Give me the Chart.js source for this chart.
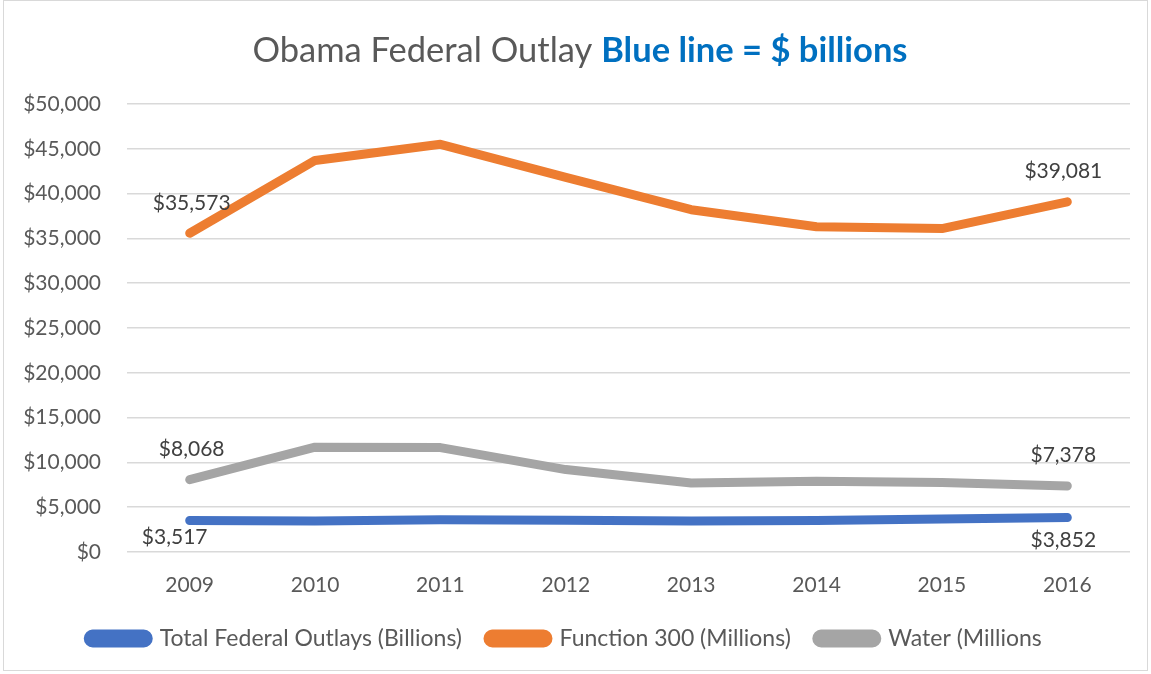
<!DOCTYPE html>
<html>
<head>
<meta charset="utf-8">
<script src="https://cdn.jsdelivr.net/npm/chart.js@4/dist/chart.umd.min.js"></script>
<style>
	html, body { margin: 0; padding: 0; background: #fff; }
	#wrap { width: 1151px; height: 674px; position: relative; }
</style>
</head>
<body>
<div id="wrap"><canvas id="outlay" width="1151" height="674"></canvas></div>
<script>
const years = ['2009', '2010', '2011', '2012', '2013', '2014', '2015', '2016']
const totalOutlays = [3517, 3457, 3603, 3537, 3455, 3506, 3688, 3852]
const function300 = [35573, 43700, 45500, 41800, 38200, 36300, 36100, 39081]
const water = [8068, 11700, 11650, 9200, 7700, 7900, 7750, 7378]
const seriesNames = ['Total Federal Outlays (Billions)', 'Function 300 (Millions)', 'Water (Millions']
const titlePlain = 'Obama Federal Outlay '
const titleBold = 'Blue line = $ billions'

const FONT = 'Lato, "Open Sans", sans-serif'
const fmt = (v) => '$' + v.toLocaleString('en-US')

// labels only on the first and last point; blue goes below, others above
const endLabels = {
	id: 'endLabels',
	afterDatasetsDraw(chart) {
		const ctx = chart.ctx
		ctx.save()
		ctx.font = '21px ' + FONT
		ctx.fillStyle = '#404040'
		ctx.textAlign = 'center'
		chart.data.datasets.forEach((ds, i) => {
			const meta = chart.getDatasetMeta(i)
			const last = ds.data.length - 1
			;[0, last].forEach((idx) => {
				const pt = meta.data[idx]
				const below = i === 0
				ctx.textBaseline = below ? 'top' : 'bottom'
				let dx = idx === 0 ? 2 : -4
				let dy = -20
				if (below) {
					dx = idx === 0 ? -15 : -4
					dy = idx === 0 ? 6 : 12
				}
				ctx.fillText(fmt(ds.data[idx]), pt.x + dx, pt.y + dy)
			})
		})
		ctx.restore()
	},
}

const titleAndFrame = {
	id: 'titleAndFrame',
	afterDraw(chart) {
		const ctx = chart.ctx
		ctx.save()
		ctx.strokeStyle = '#d9d9d9'
		ctx.lineWidth = 1
		ctx.strokeRect(3.5, 0.5, 1144, 670)

		ctx.textBaseline = 'alphabetic'
		ctx.textAlign = 'left'
		const plainFont = '34.5px ' + FONT
		const boldFont = 'bold 34.5px ' + FONT
		ctx.font = plainFont
		const w1 = ctx.measureText(titlePlain).width
		ctx.font = boldFont
		const w2 = ctx.measureText(titleBold).width
		const x0 = 580 - (w1 + w2) / 2
		ctx.font = plainFont
		ctx.fillStyle = '#595959'
		ctx.fillText(titlePlain, x0, 62)
		ctx.font = boldFont
		ctx.fillStyle = '#0070C0'
		ctx.fillText(titleBold, x0 + w1, 62)
		ctx.restore()
	},
}

const colors = ['#4472C4', '#ED7D31', '#A5A5A5']
const values = [totalOutlays, function300, water]

new Chart(document.getElementById('outlay'), {
	type: 'line',
	data: {
		labels: years,
		datasets: values.map((v, i) => ({
			label: seriesNames[i],
			data: v,
			borderColor: colors[i],
			backgroundColor: colors[i],
			borderWidth: 9,
			borderCapStyle: 'round',
			borderJoinStyle: 'round',
			pointRadius: 0,
			tension: 0,
		})),
	},
	options: {
		responsive: false,
		animation: false,
		layout: { padding: { top: 104, right: 21, left: 0, bottom: 14 } },
		scales: {
			x: {
				offset: true,
				grid: { display: false },
				border: { display: false },
				ticks: { color: '#595959', font: { family: FONT, size: 21 }, padding: 13 },
				afterFit: (scale) => { scale.height = 49 },
			},
			y: {
				min: 0,
				max: 50000,
				grid: { color: '#d9d9d9', lineWidth: 1.5, drawTicks: false },
				border: { display: false },
				ticks: {
					stepSize: 5000,
					color: '#595959',
					font: { family: FONT, size: 21 },
					padding: 26,
					callback: (v) => fmt(v),
				},
				afterFit: (scale) => { scale.width = 127 },
			},
		},
		plugins: {
			legend: {
				position: 'bottom',
				labels: {
					color: '#595959',
					font: { family: FONT, size: 23 },
					boxWidth: 60,
					boxHeight: 9,
					useBorderRadius: true,
					borderRadius: 4.5,
					padding: 26,
				},
			},
			tooltip: { enabled: false },
		},
	},
	plugins: [endLabels, titleAndFrame],
})
</script>
</body>
</html>
